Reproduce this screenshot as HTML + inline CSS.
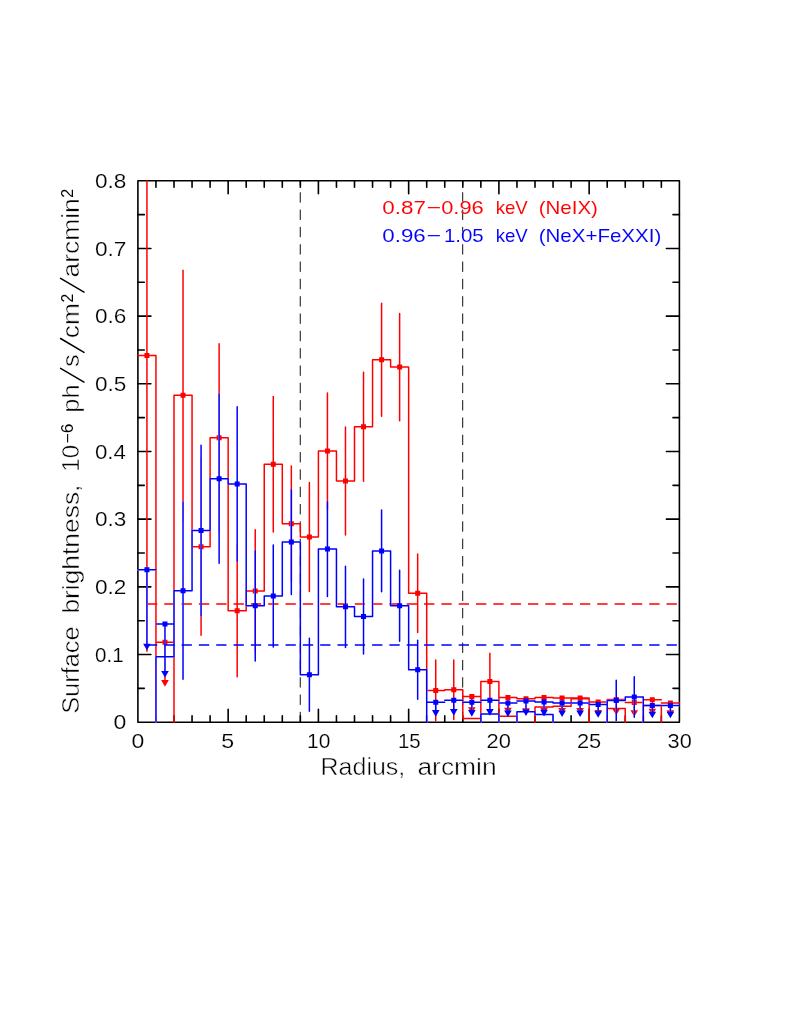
<!DOCTYPE html>
<html lang="en"><head><meta charset="utf-8"><title>Surface brightness</title>
<style>html,body{margin:0;padding:0;background:#fff}svg{display:block}text{font-kerning:none}svg{will-change:transform}</style></head>
<body>
<svg width="789" height="1021" viewBox="0 0 789 1021" font-family="'Liberation Sans', sans-serif">
<rect width="789" height="1021" fill="#fff"/>
<defs><clipPath id="pc"><rect x="137.1" y="180.0" width="543.10" height="543.00"/></clipPath></defs>
<g stroke="#000" stroke-width="1.6" fill="none" stroke-linecap="round" stroke-linejoin="round">
<rect x="137.9" y="180.8" width="541.50" height="541.40"/>
<path d="M155.95,722.2 v-6.4 M155.95,180.8 v6.4 M174.00,722.2 v-6.4 M174.00,180.8 v6.4 M192.05,722.2 v-6.4 M192.05,180.8 v6.4 M210.10,722.2 v-6.4 M210.10,180.8 v6.4 M228.15,722.2 v-13.0 M228.15,180.8 v13.0 M246.20,722.2 v-6.4 M246.20,180.8 v6.4 M264.25,722.2 v-6.4 M264.25,180.8 v6.4 M282.30,722.2 v-6.4 M282.30,180.8 v6.4 M300.35,722.2 v-6.4 M300.35,180.8 v6.4 M318.40,722.2 v-13.0 M318.40,180.8 v13.0 M336.45,722.2 v-6.4 M336.45,180.8 v6.4 M354.50,722.2 v-6.4 M354.50,180.8 v6.4 M372.55,722.2 v-6.4 M372.55,180.8 v6.4 M390.60,722.2 v-6.4 M390.60,180.8 v6.4 M408.65,722.2 v-13.0 M408.65,180.8 v13.0 M426.70,722.2 v-6.4 M426.70,180.8 v6.4 M444.75,722.2 v-6.4 M444.75,180.8 v6.4 M462.80,722.2 v-6.4 M462.80,180.8 v6.4 M480.85,722.2 v-6.4 M480.85,180.8 v6.4 M498.90,722.2 v-13.0 M498.90,180.8 v13.0 M516.95,722.2 v-6.4 M516.95,180.8 v6.4 M535.00,722.2 v-6.4 M535.00,180.8 v6.4 M553.05,722.2 v-6.4 M553.05,180.8 v6.4 M571.10,722.2 v-6.4 M571.10,180.8 v6.4 M589.15,722.2 v-13.0 M589.15,180.8 v13.0 M607.20,722.2 v-6.4 M607.20,180.8 v6.4 M625.25,722.2 v-6.4 M625.25,180.8 v6.4 M643.30,722.2 v-6.4 M643.30,180.8 v6.4 M661.35,722.2 v-6.4 M661.35,180.8 v6.4 M137.9,688.36 h6.4 M679.4,688.36 h-6.4 M137.9,654.53 h13.0 M679.4,654.53 h-13.0 M137.9,620.69 h6.4 M679.4,620.69 h-6.4 M137.9,586.85 h13.0 M679.4,586.85 h-13.0 M137.9,553.01 h6.4 M679.4,553.01 h-6.4 M137.9,519.17 h13.0 M679.4,519.17 h-13.0 M137.9,485.34 h6.4 M679.4,485.34 h-6.4 M137.9,451.50 h13.0 M679.4,451.50 h-13.0 M137.9,417.66 h6.4 M679.4,417.66 h-6.4 M137.9,383.82 h13.0 M679.4,383.82 h-13.0 M137.9,349.99 h6.4 M679.4,349.99 h-6.4 M137.9,316.15 h13.0 M679.4,316.15 h-13.0 M137.9,282.31 h6.4 M679.4,282.31 h-6.4 M137.9,248.47 h13.0 M679.4,248.47 h-13.0 M137.9,214.64 h6.4 M679.4,214.64 h-6.4 "/>
</g>
<g stroke="#000" stroke-width="0.95" stroke-dasharray="10.32 7" fill="none">
<path d="M300.25,722.2 L300.25,180.8"/>
<path d="M462.70,722.2 L462.70,180.8"/>
</g>
<g fill="none" stroke-width="1.5" stroke-linejoin="round" stroke-linecap="round" clip-path="url(#pc)">
<path d="M137.90,355.40 L137.90,355.40 L155.95,355.40 L155.95,742.50 L174.00,742.50 L174.00,395.33 L192.05,395.33 L192.05,546.72 L210.10,546.72 L210.10,437.83 L228.15,437.83 L228.15,610.74 L246.20,610.74 L246.20,591.11 L264.25,591.11 L264.25,464.22 L282.30,464.22 L282.30,523.71 L300.35,523.71 L300.35,537.04 L318.40,537.04 L318.40,451.09 L336.45,451.09 L336.45,480.94 L354.50,480.94 L354.50,426.73 L372.55,426.73 L372.55,359.80 L390.60,359.80 L390.60,367.04 L408.65,367.04 L408.65,593.35 L426.70,593.35 L426.70,690.39 L444.75,690.39 L444.75,689.72 L462.80,689.72 L462.80,718.61 L480.85,718.61 L480.85,681.60 L498.90,681.60 L498.90,716.31 L516.95,716.31 L516.95,742.50 L535.00,742.50 L535.00,706.97 L553.05,706.97 L553.05,706.16 L571.10,706.16 L571.10,698.85 L589.15,698.85 L589.15,742.50 L607.20,742.50 L607.20,708.46 L625.25,708.46 L625.25,742.50 L643.30,742.50 L643.30,705.62 L661.35,705.62 L661.35,742.50 L679.40,742.50 M146.93,180.80 L146.93,651.14 M155.95,642.34 L174.00,642.34 M164.97,642.34 L164.97,682.27 M183.03,270.13 L183.03,520.53 M201.07,458.06 L201.07,635.37 M219.12,343.76 L219.12,531.90 M237.18,544.62 L237.18,676.86 M255.23,529.87 L255.23,652.36 M273.27,396.55 L273.27,531.90 M291.33,465.91 L291.33,581.50 M309.38,482.50 L309.38,591.59 M327.43,393.10 L327.43,509.09 M345.48,426.93 L345.48,534.94 M363.52,372.18 L363.52,481.28 M381.58,303.29 L381.58,416.31 M399.62,313.38 L399.62,420.71 M417.67,554.10 L417.67,632.60 M435.73,659.94 L435.73,720.85 M453.77,659.94 L453.77,719.49 M462.80,696.48 L480.85,696.48 M471.83,696.48 L471.83,709.34 M489.88,653.17 L489.88,710.02 M498.90,697.57 L516.95,697.57 M507.92,697.57 L507.92,709.88 M516.95,698.85 L535.00,698.85 M525.98,698.85 L525.98,710.53 M535.00,697.57 L553.05,697.57 M544.02,697.57 L544.02,709.88 M553.05,698.04 L571.10,698.04 M562.08,698.04 L562.08,710.12 M571.10,698.04 L589.15,698.04 M580.12,698.04 L580.12,710.12 M589.15,702.10 L607.20,702.10 M598.17,702.10 L598.17,712.15 M607.20,699.53 L625.25,699.53 M616.23,699.53 L616.23,710.86 M625.25,702.57 L643.30,702.57 M634.27,702.57 L634.27,712.39 M643.30,699.73 L661.35,699.73 M652.32,699.73 L652.32,710.97 M661.35,702.91 L679.40,702.91 M670.38,702.91 L670.38,712.56" stroke="#ff0000"/>
<path d="M144.43,352.90 h5.0 v5.0 h-5.0 Z M161.16,680.07 L168.79,680.07 L164.97,686.67 Z M162.47,639.84 h5.0 v5.0 h-5.0 Z M180.53,392.83 h5.0 v5.0 h-5.0 Z M198.57,544.22 h5.0 v5.0 h-5.0 Z M216.62,435.33 h5.0 v5.0 h-5.0 Z M234.68,608.24 h5.0 v5.0 h-5.0 Z M252.73,588.61 h5.0 v5.0 h-5.0 Z M270.77,461.72 h5.0 v5.0 h-5.0 Z M288.83,521.21 h5.0 v5.0 h-5.0 Z M306.88,534.54 h5.0 v5.0 h-5.0 Z M324.93,448.59 h5.0 v5.0 h-5.0 Z M342.98,478.44 h5.0 v5.0 h-5.0 Z M361.02,424.23 h5.0 v5.0 h-5.0 Z M379.08,357.30 h5.0 v5.0 h-5.0 Z M397.12,364.54 h5.0 v5.0 h-5.0 Z M415.17,590.85 h5.0 v5.0 h-5.0 Z M433.23,687.89 h5.0 v5.0 h-5.0 Z M451.27,687.22 h5.0 v5.0 h-5.0 Z M468.01,707.14 L475.64,707.14 L471.83,713.74 Z M469.33,693.98 h5.0 v5.0 h-5.0 Z M487.38,679.10 h5.0 v5.0 h-5.0 Z M504.11,707.68 L511.74,707.68 L507.92,714.28 Z M505.42,695.07 h5.0 v5.0 h-5.0 Z M522.16,708.33 L529.79,708.33 L525.98,714.93 Z M523.48,696.35 h5.0 v5.0 h-5.0 Z M540.21,707.68 L547.84,707.68 L544.02,714.28 Z M541.52,695.07 h5.0 v5.0 h-5.0 Z M558.26,707.92 L565.89,707.92 L562.08,714.52 Z M559.58,695.54 h5.0 v5.0 h-5.0 Z M576.31,707.92 L583.94,707.92 L580.12,714.52 Z M577.62,695.54 h5.0 v5.0 h-5.0 Z M594.36,709.95 L601.99,709.95 L598.17,716.55 Z M595.67,699.60 h5.0 v5.0 h-5.0 Z M612.41,708.66 L620.04,708.66 L616.23,715.26 Z M613.73,697.03 h5.0 v5.0 h-5.0 Z M630.46,710.19 L638.09,710.19 L634.27,716.79 Z M631.77,700.07 h5.0 v5.0 h-5.0 Z M648.51,708.77 L656.14,708.77 L652.32,715.37 Z M649.82,697.23 h5.0 v5.0 h-5.0 Z M666.56,710.36 L674.19,710.36 L670.38,716.96 Z M667.88,700.41 h5.0 v5.0 h-5.0 Z" fill="#ff0000" stroke="none"/>
</g>
<path d="M146.93,603.97 L679.4,603.97" stroke="#ff0000" stroke-width="1.5" stroke-dasharray="10.32 7" fill="none"/>
<g fill="none" stroke-width="1.5" stroke-linejoin="round" stroke-linecap="round" clip-path="url(#pc)">
<path d="M137.90,742.50 L137.90,742.50 L155.95,742.50 L155.95,656.69 L174.00,656.69 L174.00,590.71 L192.05,590.71 L192.05,530.41 L210.10,530.41 L210.10,478.71 L228.15,478.71 L228.15,483.98 L246.20,483.98 L246.20,605.80 L264.25,605.80 L264.25,596.05 L282.30,596.05 L282.30,542.12 L300.35,542.12 L300.35,674.83 L318.40,674.83 L318.40,549.02 L336.45,549.02 L336.45,606.81 L354.50,606.81 L354.50,616.49 L372.55,616.49 L372.55,550.91 L390.60,550.91 L390.60,605.80 L408.65,605.80 L408.65,669.75 L426.70,669.75 L426.70,742.50 L444.75,742.50 L444.75,742.50 L462.80,742.50 L462.80,742.50 L480.85,742.50 L480.85,714.08 L498.90,714.08 L498.90,742.50 L516.95,742.50 L516.95,711.78 L535.00,711.78 L535.00,714.55 L553.05,714.55 L553.05,742.50 L571.10,742.50 L571.10,742.50 L589.15,742.50 L589.15,742.50 L607.20,742.50 L607.20,700.54 L625.25,700.54 L625.25,697.02 L643.30,697.02 L643.30,742.50 L661.35,742.50 L661.35,742.50 L679.40,742.50 M137.90,569.66 L155.95,569.66 M146.93,569.66 L146.93,645.93 M155.95,624.07 L174.00,624.07 M164.97,624.07 L164.97,673.14 M183.03,502.05 L183.03,679.36 M201.07,445.14 L201.07,615.68 M219.12,394.11 L219.12,563.30 M237.18,406.83 L237.18,561.13 M255.23,550.64 L255.23,660.95 M273.27,545.03 L273.27,647.08 M291.33,489.80 L291.33,594.43 M309.38,638.28 L309.38,711.37 M327.43,501.65 L327.43,596.39 M345.48,566.21 L345.48,647.42 M363.52,579.07 L363.52,653.92 M381.58,510.04 L381.58,591.79 M399.62,570.34 L399.62,641.26 M417.67,640.31 L417.67,699.19 M426.70,702.37 L444.75,702.37 M435.73,702.37 L435.73,712.29 M444.75,700.34 L462.80,700.34 M453.77,700.34 L453.77,711.27 M462.80,702.37 L480.85,702.37 M471.83,702.37 L471.83,712.29 M480.85,700.34 L498.90,700.34 M489.88,700.34 L489.88,711.27 M498.90,703.12 L516.95,703.12 M507.92,703.12 L507.92,712.66 M516.95,701.09 L535.00,701.09 M525.98,701.09 L525.98,711.64 M535.00,701.90 L553.05,701.90 M544.02,701.90 L544.02,712.05 M553.05,703.12 L571.10,703.12 M562.08,703.12 L562.08,712.66 M571.10,703.12 L589.15,703.12 M580.12,703.12 L580.12,712.66 M589.15,704.60 L607.20,704.60 M598.17,704.60 L598.17,713.40 M616.23,680.24 L616.23,720.85 M634.27,676.72 L634.27,717.33 M643.30,705.62 L661.35,705.62 M652.32,705.62 L652.32,713.91 M661.35,705.62 L679.40,705.62 M670.38,705.62 L670.38,713.91" stroke="#fff"/>
<path d="M137.90,742.50 L137.90,742.50 L155.95,742.50 L155.95,656.69 L174.00,656.69 L174.00,590.71 L192.05,590.71 L192.05,530.41 L210.10,530.41 L210.10,478.71 L228.15,478.71 L228.15,483.98 L246.20,483.98 L246.20,605.80 L264.25,605.80 L264.25,596.05 L282.30,596.05 L282.30,542.12 L300.35,542.12 L300.35,674.83 L318.40,674.83 L318.40,549.02 L336.45,549.02 L336.45,606.81 L354.50,606.81 L354.50,616.49 L372.55,616.49 L372.55,550.91 L390.60,550.91 L390.60,605.80 L408.65,605.80 L408.65,669.75 L426.70,669.75 L426.70,742.50 L444.75,742.50 L444.75,742.50 L462.80,742.50 L462.80,742.50 L480.85,742.50 L480.85,714.08 L498.90,714.08 L498.90,742.50 L516.95,742.50 L516.95,711.78 L535.00,711.78 L535.00,714.55 L553.05,714.55 L553.05,742.50 L571.10,742.50 L571.10,742.50 L589.15,742.50 L589.15,742.50 L607.20,742.50 L607.20,700.54 L625.25,700.54 L625.25,697.02 L643.30,697.02 L643.30,742.50 L661.35,742.50 L661.35,742.50 L679.40,742.50 M137.90,569.66 L155.95,569.66 M146.93,569.66 L146.93,645.93 M155.95,624.07 L174.00,624.07 M164.97,624.07 L164.97,673.14 M183.03,502.05 L183.03,679.36 M201.07,445.14 L201.07,615.68 M219.12,394.11 L219.12,563.30 M237.18,406.83 L237.18,561.13 M255.23,550.64 L255.23,660.95 M273.27,545.03 L273.27,647.08 M291.33,489.80 L291.33,594.43 M309.38,638.28 L309.38,711.37 M327.43,501.65 L327.43,596.39 M345.48,566.21 L345.48,647.42 M363.52,579.07 L363.52,653.92 M381.58,510.04 L381.58,591.79 M399.62,570.34 L399.62,641.26 M417.67,640.31 L417.67,699.19 M426.70,702.37 L444.75,702.37 M435.73,702.37 L435.73,712.29 M444.75,700.34 L462.80,700.34 M453.77,700.34 L453.77,711.27 M462.80,702.37 L480.85,702.37 M471.83,702.37 L471.83,712.29 M480.85,700.34 L498.90,700.34 M489.88,700.34 L489.88,711.27 M498.90,703.12 L516.95,703.12 M507.92,703.12 L507.92,712.66 M516.95,701.09 L535.00,701.09 M525.98,701.09 L525.98,711.64 M535.00,701.90 L553.05,701.90 M544.02,701.90 L544.02,712.05 M553.05,703.12 L571.10,703.12 M562.08,703.12 L562.08,712.66 M571.10,703.12 L589.15,703.12 M580.12,703.12 L580.12,712.66 M589.15,704.60 L607.20,704.60 M598.17,704.60 L598.17,713.40 M616.23,680.24 L616.23,720.85 M634.27,676.72 L634.27,717.33 M643.30,705.62 L661.35,705.62 M652.32,705.62 L652.32,713.91 M661.35,705.62 L679.40,705.62 M670.38,705.62 L670.38,713.91" stroke="#0000ff"/>
<path d="M143.11,643.73 L150.74,643.73 L146.93,650.33 Z M144.43,567.16 h5.0 v5.0 h-5.0 Z M161.16,670.94 L168.79,670.94 L164.97,677.54 Z M162.47,621.57 h5.0 v5.0 h-5.0 Z M180.53,588.21 h5.0 v5.0 h-5.0 Z M198.57,527.91 h5.0 v5.0 h-5.0 Z M216.62,476.21 h5.0 v5.0 h-5.0 Z M234.68,481.48 h5.0 v5.0 h-5.0 Z M252.73,603.30 h5.0 v5.0 h-5.0 Z M270.77,593.55 h5.0 v5.0 h-5.0 Z M288.83,539.62 h5.0 v5.0 h-5.0 Z M306.88,672.33 h5.0 v5.0 h-5.0 Z M324.93,546.52 h5.0 v5.0 h-5.0 Z M342.98,604.31 h5.0 v5.0 h-5.0 Z M361.02,613.99 h5.0 v5.0 h-5.0 Z M379.08,548.41 h5.0 v5.0 h-5.0 Z M397.12,603.30 h5.0 v5.0 h-5.0 Z M415.17,667.25 h5.0 v5.0 h-5.0 Z M431.91,710.09 L439.54,710.09 L435.73,716.69 Z M433.23,699.87 h5.0 v5.0 h-5.0 Z M449.96,709.07 L457.59,709.07 L453.77,715.67 Z M451.27,697.84 h5.0 v5.0 h-5.0 Z M468.01,710.09 L475.64,710.09 L471.83,716.69 Z M469.33,699.87 h5.0 v5.0 h-5.0 Z M486.06,709.07 L493.69,709.07 L489.88,715.67 Z M487.38,697.84 h5.0 v5.0 h-5.0 Z M504.11,710.46 L511.74,710.46 L507.92,717.06 Z M505.42,700.62 h5.0 v5.0 h-5.0 Z M522.16,709.44 L529.79,709.44 L525.98,716.04 Z M523.48,698.59 h5.0 v5.0 h-5.0 Z M540.21,709.85 L547.84,709.85 L544.02,716.45 Z M541.52,699.40 h5.0 v5.0 h-5.0 Z M558.26,710.46 L565.89,710.46 L562.08,717.06 Z M559.58,700.62 h5.0 v5.0 h-5.0 Z M576.31,710.46 L583.94,710.46 L580.12,717.06 Z M577.62,700.62 h5.0 v5.0 h-5.0 Z M594.36,711.20 L601.99,711.20 L598.17,717.80 Z M595.67,702.10 h5.0 v5.0 h-5.0 Z M613.73,698.04 h5.0 v5.0 h-5.0 Z M631.77,694.52 h5.0 v5.0 h-5.0 Z M648.51,711.71 L656.14,711.71 L652.32,718.31 Z M649.82,703.12 h5.0 v5.0 h-5.0 Z M666.56,711.71 L674.19,711.71 L670.38,718.31 Z M667.88,703.12 h5.0 v5.0 h-5.0 Z" fill="#0000ff" stroke="none"/>
</g>
<path d="M146.93,644.98 L679.4,644.98" stroke="#0000ff" stroke-width="1.5" stroke-dasharray="10.32 7" fill="none"/>
<text transform="translate(131.40,747.80) scale(1.1314,1.0000)" font-size="20.34" fill="#000" stroke="#fff" stroke-width="0.19" paint-order="fill stroke">0</text>
<text transform="translate(221.37,747.80) scale(1.1407,1.0000)" font-size="20.34" fill="#000" stroke="#fff" stroke-width="0.19" paint-order="fill stroke">5</text>
<text transform="translate(307.10,747.80) scale(1.0306,1.0000)" font-size="20.34" fill="#000" stroke="#fff" stroke-width="0.19" paint-order="fill stroke">10</text>
<text transform="translate(397.94,747.80) scale(1.0040,1.0000)" font-size="20.34" fill="#000" stroke="#fff" stroke-width="0.19" paint-order="fill stroke">15</text>
<text transform="translate(486.50,747.80) scale(1.0766,1.0000)" font-size="20.34" fill="#000" stroke="#fff" stroke-width="0.19" paint-order="fill stroke">20</text>
<text transform="translate(576.90,747.80) scale(1.0749,1.0000)" font-size="20.34" fill="#000" stroke="#fff" stroke-width="0.19" paint-order="fill stroke">25</text>
<text transform="translate(667.57,747.80) scale(1.0687,1.0000)" font-size="20.34" fill="#000" stroke="#fff" stroke-width="0.19" paint-order="fill stroke">30</text>
<text transform="translate(113.40,729.40) scale(1.1314,1.0000)" font-size="20.34" fill="#000" stroke="#fff" stroke-width="0.19" paint-order="fill stroke">0</text>
<text transform="translate(95.00,661.73) scale(1.0119,1.0000)" font-size="20.34" fill="#000" stroke="#fff" stroke-width="0.19" paint-order="fill stroke">0.1</text>
<text transform="translate(94.91,594.05) scale(1.1150,1.0000)" font-size="20.34" fill="#000" stroke="#fff" stroke-width="0.19" paint-order="fill stroke">0.2</text>
<text transform="translate(94.92,526.38) scale(1.1096,1.0000)" font-size="20.34" fill="#000" stroke="#fff" stroke-width="0.19" paint-order="fill stroke">0.3</text>
<text transform="translate(94.93,458.70) scale(1.0973,1.0000)" font-size="20.34" fill="#000" stroke="#fff" stroke-width="0.19" paint-order="fill stroke">0.4</text>
<text transform="translate(94.92,391.02) scale(1.1080,1.0000)" font-size="20.34" fill="#000" stroke="#fff" stroke-width="0.19" paint-order="fill stroke">0.5</text>
<text transform="translate(94.92,323.35) scale(1.1096,1.0000)" font-size="20.34" fill="#000" stroke="#fff" stroke-width="0.19" paint-order="fill stroke">0.6</text>
<text transform="translate(94.91,255.67) scale(1.1150,1.0000)" font-size="20.34" fill="#000" stroke="#fff" stroke-width="0.19" paint-order="fill stroke">0.7</text>
<text transform="translate(94.92,188.00) scale(1.1092,1.0000)" font-size="20.34" fill="#000" stroke="#fff" stroke-width="0.19" paint-order="fill stroke">0.8</text>
<text transform="translate(320.55,774.60) scale(1.0642,1.0000)" font-size="23.50" fill="#000" stroke="#fff" stroke-width="0.47" paint-order="fill stroke">Radius,</text>
<text transform="translate(417.38,774.60) scale(1.1252,1.0000)" font-size="23.50" fill="#000" stroke="#fff" stroke-width="0.47" paint-order="fill stroke">arcmin</text>
<text transform="translate(382.32,214.30) scale(1.1926,1.0000)" font-size="18.79" fill="#ff0000" stroke="#fff" stroke-width="0.05" paint-order="fill stroke">0.87</text>
<text transform="translate(426.56,214.30) scale(1.3368,1.0000)" font-size="18.79" fill="#ff0000" stroke="#fff" stroke-width="0.05" paint-order="fill stroke">−</text>
<text transform="translate(441.14,214.30) scale(1.1656,1.0000)" font-size="18.79" fill="#ff0000" stroke="#fff" stroke-width="0.05" paint-order="fill stroke">0.96</text>
<text transform="translate(495.64,214.30) scale(0.9929,1.0000)" font-size="18.79" fill="#ff0000" stroke="#fff" stroke-width="0.05" paint-order="fill stroke">keV</text>
<text transform="translate(538.73,214.30) scale(1.0916,1.0000)" font-size="18.79" fill="#ff0000" stroke="#fff" stroke-width="0.05" paint-order="fill stroke">(NeIX)</text>
<text transform="translate(382.33,241.70) scale(1.1885,1.0000)" font-size="18.79" fill="#0000ff" stroke="#fff" stroke-width="0.05" paint-order="fill stroke">0.96</text>
<text transform="translate(426.56,241.70) scale(1.3368,1.0000)" font-size="18.79" fill="#0000ff" stroke="#fff" stroke-width="0.05" paint-order="fill stroke">−</text>
<text transform="translate(443.95,241.70) scale(1.0861,1.0000)" font-size="18.79" fill="#0000ff" stroke="#fff" stroke-width="0.05" paint-order="fill stroke">1.05</text>
<text transform="translate(495.64,241.70) scale(0.9929,1.0000)" font-size="18.79" fill="#0000ff" stroke="#fff" stroke-width="0.05" paint-order="fill stroke">keV</text>
<text transform="translate(538.73,241.70) scale(1.0920,1.0000)" font-size="18.79" fill="#0000ff" stroke="#fff" stroke-width="0.05" paint-order="fill stroke">(NeX+FeXXI)</text>
<g transform="translate(79.4,0) rotate(-90)">
<text transform="translate(-713.85,0.00) scale(1.0802,1.0000)" font-size="23.50" fill="#000" stroke="#fff" stroke-width="0.47" paint-order="fill stroke">Surface</text>
<text transform="translate(-613.60,0.00) scale(1.1228,1.0000)" font-size="23.50" fill="#000" stroke="#fff" stroke-width="0.47" paint-order="fill stroke">brightness,</text>
<text transform="translate(-471.74,0.00) scale(0.9892,1.0000)" font-size="24.44" fill="#000" stroke="#fff" stroke-width="0.55" paint-order="fill stroke">10</text>
<text transform="translate(-443.46,-6.80) scale(1.1089,1.0000)" font-size="15.68" fill="#000">−6</text>
<text transform="translate(-412.65,0.00) scale(1.0867,1.0000)" font-size="23.50" fill="#000" stroke="#fff" stroke-width="0.47" paint-order="fill stroke">ph</text>
<text transform="translate(-367.00,0.00) scale(1.0735,1.0000)" font-size="23.50" fill="#000" stroke="#fff" stroke-width="0.47" paint-order="fill stroke">s</text>
<text transform="translate(-338.22,0.00) scale(1.1189,1.0000)" font-size="23.50" fill="#000" stroke="#fff" stroke-width="0.47" paint-order="fill stroke">cm</text>
<text transform="translate(-302.58,-6.40) scale(0.9765,1.0000)" font-size="15.96" fill="#000">2</text>
<text transform="translate(-277.42,0.00) scale(1.1237,1.0000)" font-size="23.50" fill="#000" stroke="#fff" stroke-width="0.47" paint-order="fill stroke">arcmin</text>
<text transform="translate(-197.71,-6.40) scale(1.0040,1.0000)" font-size="15.96" fill="#000">2</text>
</g>
<g stroke="#000" stroke-width="1.5" stroke-linecap="round">
<line x1="84.0" y1="382.2" x2="60.6" y2="368.3"/>
<line x1="84.0" y1="352.4" x2="60.6" y2="338.5"/>
<line x1="84.0" y1="292.2" x2="60.6" y2="278.3"/>
</g>
</svg>
</body></html>
